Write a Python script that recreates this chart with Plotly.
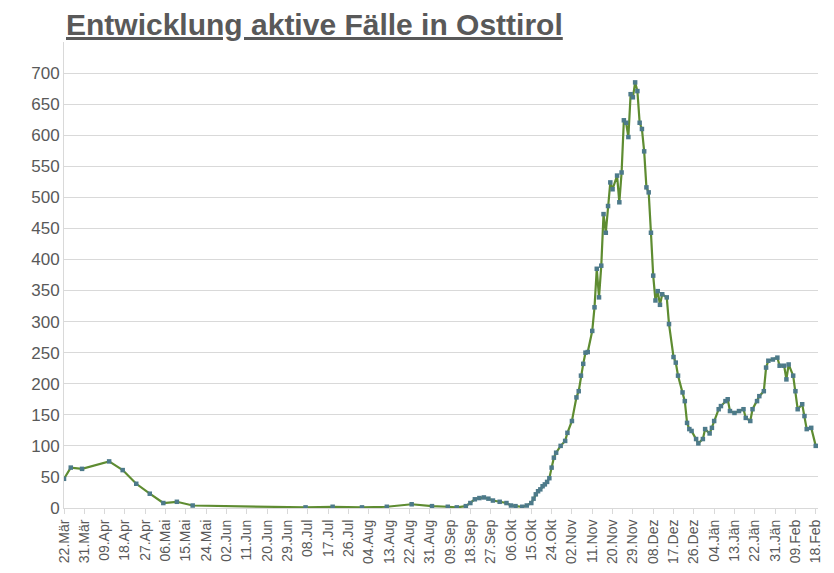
import datetime as dt
import plotly.graph_objects as go

start = dt.date(2020, 3, 22)

# day offsets from 22.Mär 2020 and active cases
days = [0, 3, 8, 20, 26, 32, 38, 44, 50, 57, 107, 119, 132, 143, 154,
        163, 170, 174, 178, 180, 182, 184, 186, 188, 190, 193, 196, 198, 200,
        203, 205, 207, 208, 209, 210, 211, 212, 213, 214, 215, 216,
        217, 218, 220, 222, 223, 225, 227, 228, 229, 230,
        231, 232, 234, 235, 236, 237, 238, 239, 240, 241,
        242, 243, 245, 246, 247, 248, 249, 250, 251, 252,
        253, 254, 255, 256, 257, 258, 259, 260, 261, 262,
        263, 264, 265, 267, 268, 270, 271, 272, 274, 275,
        276, 277, 278, 280, 281, 283, 284, 286, 287, 288,
        290, 291, 293, 294, 295, 297, 299, 301, 302, 304,
        305, 307, 308, 310, 311, 312, 314, 316, 317, 319,
        320, 321, 323, 324, 325, 327, 328, 329, 331, 333]
cases = [47, 65, 63, 75, 61, 39, 23, 8, 10, 4, 1, 2, 1, 2, 6,
         3, 2, 1, 3, 8, 14, 16, 17, 15, 12, 10, 8, 4, 3,
         2, 4, 8, 15, 22, 27, 30, 35, 38, 42, 48, 65,
         81, 89, 100, 108, 121, 140, 178, 188, 213, 232,
         250, 251, 285, 323, 385, 339, 390, 473, 443, 486,
         524, 513, 535, 492, 540, 624, 620, 597, 666, 661,
         685, 671, 620, 610, 574, 516, 508, 443, 374, 334,
         349, 327, 344, 339, 296, 243, 234, 213, 186, 172,
         137, 127, 124, 111, 104, 111, 127, 120, 129, 140,
         159, 164, 172, 175, 156, 153, 156, 159, 145, 140,
         159, 172, 180, 188, 226, 237, 239, 242, 229, 229,
         207, 231, 213, 188, 159, 167, 148, 127, 129, 100]

months = ["Jän", "Feb", "Mär", "Apr", "Mai", "Jun", "Jul", "Aug", "Sep", "Okt", "Nov", "Dez"]
tick_days = list(range(0, 334, 9))

dates = [start + dt.timedelta(days=d) for d in days]
tick_dates = [start + dt.timedelta(days=d) for d in tick_days]
tick_text = [f"{t.day:02d}.{months[t.month - 1]}" for t in tick_dates]

fig = go.Figure(go.Scatter(
    x=dates, y=cases, mode="lines+markers",
    line=dict(color="#5e8c31", width=2.2),
    marker=dict(symbol="square", size=4.5, color="#4d7a8a"),
))

fig.update_layout(
    width=834, height=573,
    margin=dict(l=56, r=24, t=34, b=73),
    paper_bgcolor="white", plot_bgcolor="white",
    font=dict(family="Liberation Sans, Arial", color="#595959", size=16),
    showlegend=False,
    annotations=[dict(
        text="<b><u>Entwicklung aktive Fälle in Osttirol</u></b>",
        x=0.0, y=1.0, xref="paper", yref="paper", showarrow=False,
        xanchor="left", yanchor="top", xshift=0, yshift=36,
        font=dict(size=30, color="#595959"),
    )],
)
fig.update_xaxes(
    range=[start - dt.timedelta(days=0.5), start + dt.timedelta(days=334)],
    tickvals=tick_dates, ticktext=tick_text, tickangle=-90,
    showgrid=False, showline=True, linecolor="#d9d9d9",
    ticks="outside", tickcolor="#d9d9d9", ticklen=5,
    tickfont=dict(size=14), automargin=False,
)
fig.update_yaxes(
    range=[0, 750], tickvals=list(range(0, 701, 50)),
    showgrid=True, gridcolor="#d9d9d9", zeroline=False,
    showline=True, linecolor="#d9d9d9", tickfont=dict(size=17),
    automargin=False,
)

fig.write_html("out.html")
